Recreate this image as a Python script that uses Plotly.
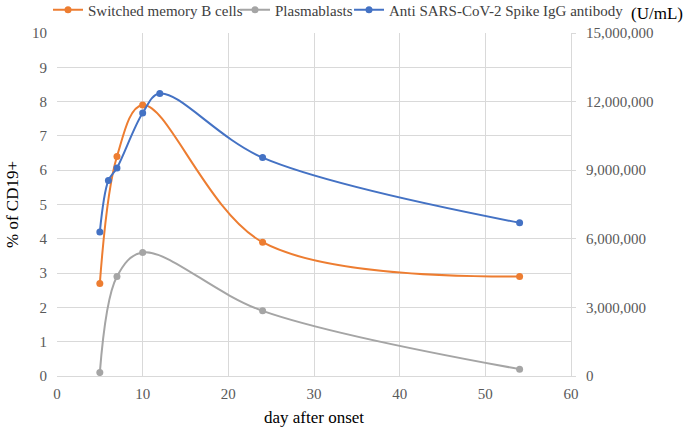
import plotly.graph_objects as go

# days after onset and values per series
days_b = [5, 7, 10, 24, 54]
switched_memory_b = [2.7, 6.4, 7.9, 3.9, 2.9]
plasmablasts = [0.1, 2.9, 3.6, 1.9, 0.2]

days_igg = [5, 6, 7, 10, 12, 24, 54]
spike_igg = [6300000, 8550000, 9100000, 11500000, 12350000, 9550000, 6700000]

x_ticks = [0, 10, 20, 30, 40, 50, 60]
left_ticks = list(range(0, 11))
right_ticks = [0, 3000000, 6000000, 9000000, 12000000, 15000000]
right_labels = ["0", "3,000,000", "6,000,000", "9,000,000", "12,000,000", "15,000,000"]

ORANGE = "#ED7D31"
GRAY = "#A5A5A5"
BLUE = "#4472C4"
FONT = "Liberation Serif"


def tick_font():
    return {"family": FONT, "size": 15, "color": "#595959"}


def title_font():
    return {"family": FONT, "size": 17, "color": "black"}


def line_trace(x, y, name, color, legend, axis="y"):
    return go.Scatter(
        x=x, y=y, name=name, yaxis=axis, mode="lines+markers", legend=legend,
        line={"color": color, "width": 2, "shape": "spline", "smoothing": 1},
        marker={"size": 7, "color": color},
    )


def legend_box(left_px):
    # one legend per series so that the entries sit in a single row
    return {
        "orientation": "h", "xref": "container", "yref": "container",
        "x": left_px / 689, "y": 1 - 10 / 428, "xanchor": "left", "yanchor": "middle",
        "font": {"family": FONT, "size": 15, "color": "#404040"},
        "itemwidth": 30, "bgcolor": "rgba(0,0,0,0)",
    }


fig = go.Figure([
    line_trace(days_b, switched_memory_b, "Switched memory B cells", ORANGE, "legend"),
    line_trace(days_b, plasmablasts, "Plasmablasts", GRAY, "legend2"),
    line_trace(days_igg, spike_igg, "Anti SARS-CoV-2 Spike IgG antibody", BLUE, "legend3", "y2"),
])

fig.update_layout(
    width=689, height=428,
    paper_bgcolor="white", plot_bgcolor="white",
    margin={"l": 57, "r": 118, "t": 33, "b": 52, "autoexpand": False},
    font={"family": FONT, "size": 15, "color": "#595959"},
    showlegend=True,
    legend=legend_box(48),
    legend2=legend_box(235),
    legend3=legend_box(349),
    xaxis={
        "range": [0, 60], "tickvals": x_ticks, "showgrid": True, "gridcolor": "#D9D9D9",
        "zeroline": False, "showline": True, "linecolor": "#D9D9D9", "ticklabelstandoff": 4,
        "title": {"text": "day after onset", "font": title_font(), "standoff": 10},
        "tickfont": tick_font(),
    },
    yaxis={
        "range": [0, 10], "tickvals": left_ticks, "showgrid": True, "gridcolor": "#D9D9D9",
        "zeroline": False, "showline": False, "ticklabelstandoff": 9,
        "title": {"text": "% of CD19+", "font": title_font(), "standoff": 9},
        "tickfont": tick_font(),
    },
    yaxis2={
        "range": [0, 15000000], "tickvals": right_ticks, "ticktext": right_labels,
        "overlaying": "y", "side": "right", "showgrid": False, "zeroline": False,
        "showline": True, "linecolor": "#D9D9D9", "ticks": "outside", "ticklen": 4,
        "tickcolor": "#D9D9D9", "ticklabelstandoff": 7, "tickfont": tick_font(),
    },
    annotations=[{
        "text": "(U/mL)", "xref": "paper", "yref": "paper", "x": 1.222, "y": 1.058,
        "xanchor": "right", "yanchor": "middle", "showarrow": False,
        "font": title_font(),
    }],
)

# drop the default page margin so the chart sits at the window's top-left corner
_no_margin_css = (
    "var s=document.createElement('style');"
    "s.textContent='html,body{margin:0;padding:0;background:white}';"
    "document.head.appendChild(s);"
)
fig.write_html(
    "out.html",
    config={"displayModeBar": False},
    post_script=_no_margin_css,
)
